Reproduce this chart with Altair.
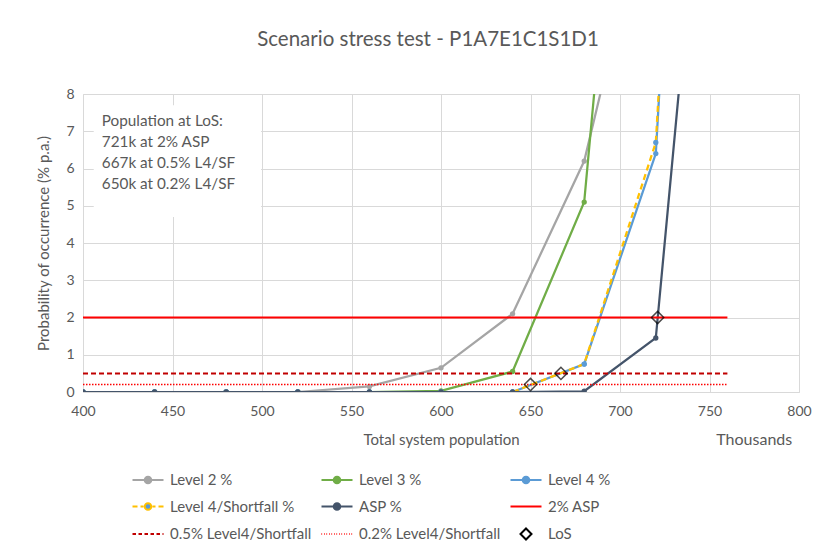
import altair as alt
import pandas as pd

# ---------------- data ----------------
x_pop = [400, 440, 480, 520, 560, 600, 640, 680, 720, 760]
level2 = [0, 0, 0, 0, 0.15, 0.65, 2.1, 6.2, 14.2, 22]
level3 = [0, 0, 0, 0, 0, 0.03, 0.55, 5.1, 26, 47]
level4 = [0, 0, 0, 0, 0, 0, 0, 0.75, 6.4, 40]
level4_sf = [0, 0, 0, 0, 0, 0, 0, 0.75, 6.7, 40]
asp = [0, 0, 0, 0, 0, 0, 0, 0.02, 1.45, 22]

ref_x = [400, 760]
ref_2_asp = 2.0
ref_05 = 0.5
ref_02 = 0.2

los_x = [650, 667, 721]
los_y = [0.2, 0.5, 2.0]

note_lines = ["Population at LoS:", "721k at 2% ASP", "667k at 0.5% L4/SF", "650k at 0.2% L4/SF"]
note_box_x = [406, 499.5]
note_box_y = [4.7, 7.7]

x_ticks = [400, 450, 500, 550, 600, 650, 700, 750, 800]
y_ticks = [0, 1, 2, 3, 4, 5, 6, 7, 8]

legend_names = ["Level 2 %", "Level 3 %", "Level 4 %",
                "Level 4/Shortfall %", "ASP %", "2% ASP",
                "0.5% Level4/Shortfall", "0.2% Level4/Shortfall", "LoS"]

FONT = "Lato"
TXT = "#595959"
GRID = "#D9D9D9"
C_L2 = "#A5A5A5"
C_L3 = "#70AD47"
C_L4 = "#5B9BD5"
C_SF = "#FFC000"
C_ASP = "#44546A"
C_RED = "#FF0000"
C_DRED = "#C00000"

# ---------------- tables ----------------
series_df = pd.DataFrame({
    "x": x_pop * 5,
    "y": level2 + level3 + level4 + level4_sf + asp,
    "s": (["Level 2 %"] * len(x_pop) + ["Level 3 %"] * len(x_pop) + ["Level 4 %"] * len(x_pop)
          + ["Level 4/Shortfall %"] * len(x_pop) + ["ASP %"] * len(x_pop)),
})
ref_df = pd.DataFrame({
    "x": ref_x * 3,
    "y": [ref_2_asp] * 2 + [ref_05] * 2 + [ref_02] * 2,
    "s": ["2% ASP"] * 2 + ["0.5% Level4/Shortfall"] * 2 + ["0.2% Level4/Shortfall"] * 2,
})
los_df = pd.DataFrame({"x": los_x, "y": los_y})
legend_df = pd.DataFrame({"s": legend_names})

xs = alt.Scale(domain=[400, 800], nice=False, zero=False)
ys = alt.Scale(domain=[0, 8], nice=False)

xax = alt.Axis(values=x_ticks, grid=True, gridColor=GRID, domain=False, labelFlush=False,
               ticks=False, labelColor=TXT, labelFont=FONT, labelFontSize=14, labelPadding=12,
               title="Total system population", titleColor=TXT, titleFont=FONT, titleFontSize=15,
               titleFontWeight="normal", titlePadding=14)
yax = alt.Axis(values=y_ticks, tickCount=9, grid=True, gridColor=GRID, domain=False,
               labelFlush=False, labelOverlap=False,
               ticks=False, labelColor=TXT, labelFont=FONT, labelFontSize=14, labelPadding=9,
               title="Probability of occurrence (% p.a.)", titleColor=TXT, titleFont=FONT,
               titleFontSize=15, titleFontWeight="normal", titlePadding=14)

X = alt.X("x:Q", scale=xs, axis=xax)
Y = alt.Y("y:Q", scale=ys, axis=yax)

base = alt.Chart(series_df)

box = alt.Chart(pd.DataFrame({"x": [note_box_x[0]], "x2": [note_box_x[1]],
                              "y": [note_box_y[0]], "y2": [note_box_y[1]]})).mark_rect(
    fill="white", strokeWidth=0).encode(
    x=X, x2="x2:Q", y=Y, y2="y2:Q")

note = alt.Chart(pd.DataFrame({"t": [note_lines]})).mark_text(
    align="left", baseline="top", font=FONT, fontSize=15.3, color=TXT, lineHeight=21).encode(
    x=alt.datum(410.5, scale=xs, axis=xax), y=alt.datum(7.45, scale=ys, axis=yax), text="t:N")


def series_line(name, color, dash=None, pcolor=None):
    lkw = dict(color=color, strokeWidth=2.25, clip=True)
    if dash:
        lkw["strokeDash"] = dash
    ln = base.transform_filter(alt.datum.s == name).mark_line(**lkw).encode(x=X, y=Y)
    pt = base.transform_filter(alt.datum.s == name).mark_point(
        filled=True, size=28, color=pcolor or color, opacity=1, clip=True).encode(x=X, y=Y)
    return ln + pt


def ref_line(name, color, dash=None, width=2.0):
    kw = dict(color=color, strokeWidth=width)
    if dash:
        kw["strokeDash"] = dash
    return alt.Chart(ref_df).transform_filter(alt.datum.s == name).mark_line(**kw).encode(x=X, y=Y)


l2 = series_line("Level 2 %", C_L2)
l3 = series_line("Level 3 %", C_L3)
l4 = series_line("Level 4 %", C_L4)
lsf = series_line("Level 4/Shortfall %", C_SF, dash=[6, 4], pcolor=C_L4)
la = series_line("ASP %", C_ASP)
r2 = ref_line("2% ASP", C_RED, width=2.0)
r05 = ref_line("0.5% Level4/Shortfall", C_DRED, dash=[5, 3], width=2.0)
r02 = ref_line("0.2% Level4/Shortfall", C_RED, dash=[1.5, 1.5], width=1.5)

los = alt.Chart(los_df).mark_point(shape="diamond", size=150, filled=False, stroke="black",
                                    strokeWidth=1.5).encode(x=X, y=Y)

thousands = alt.Chart(los_df.head(1)).mark_text(
    font=FONT, fontSize=16, color=TXT, baseline="middle", align="center").encode(
    x=alt.datum(775, scale=xs, axis=xax), y=alt.value(346), text=alt.value("Thousands"))

# legend symbols (custom paths in unit box, extended horizontally)
dot = "M-0.33,0A0.33,0.33 0 1,0 0.33,0A0.33,0.33 0 1,0 -0.33,0Z"
solid_dot = "M-1.55,0L1.55,0" + dot
dash_dot = "M-1.55,0L-1.05,0M-0.75,0L-0.45,0M0.45,0L0.75,0M1.05,0L1.55,0" + dot
solid = "M-1.55,0L1.55,0"
dashed = "M-1.55,0L-1.2,0M-0.95,0L-0.6,0M-0.35,0L0,0M0.25,0L0.6,0M0.85,0L1.2,0M1.45,0L1.55,0"
dotted = "".join(f"M{-1.55 + i * 0.25:.2f},0L{-1.49 + i * 0.25:.2f},0" for i in range(13))
diamond = "M0,-0.55L0.55,0L0,0.55L-0.55,0Z"

shapes = [solid_dot, solid_dot, solid_dot, dash_dot, solid_dot, solid, dashed, dotted, diamond]
strokes = [C_L2, C_L3, C_L4, C_SF, C_ASP, C_RED, C_DRED, C_RED, "black"]
fills = [C_L2, C_L3, C_L4, C_L4, C_ASP, C_RED, C_DRED, C_RED, "white"]

leg = alt.Legend(title=None, orient="none", legendX=54, legendY=374, direction="horizontal",
                 columns=3, gridAlign="all", columnPadding=5, rowPadding=6.5, symbolSize=400,
                 symbolStrokeWidth=2, symbolOpacity=1, labelOffset=11, labelFont=FONT,
                 labelFontSize=15, labelColor=TXT, labelLimit=300)

legend_layer = alt.Chart(legend_df).mark_point(filled=True, opacity=0).encode(
    shape=alt.Shape("s:N", scale=alt.Scale(domain=legend_names, range=shapes), legend=leg),
    stroke=alt.Stroke("s:N", scale=alt.Scale(domain=legend_names, range=strokes), legend=leg),
    fill=alt.Fill("s:N", scale=alt.Scale(domain=legend_names, range=fills), legend=leg),
)

chart = alt.layer(
    box, note, l2, l3, l4, lsf, la, r2, r05, r02, los, thousands, legend_layer
).properties(
    width=716, height=298,
    title=alt.Title("Scenario stress test - P1A7E1C1S1D1", font=FONT, fontSize=20.5,
                    fontWeight="normal", color=TXT, dx=-13, offset=37),
    autosize=alt.AutoSizeParams(type="none"),
    padding={"left": 75, "top": 86, "right": 20, "bottom": 160},
).configure_view(stroke=GRID).configure(background="white")

chart.save("out.html", embed_options={"renderer": "svg", "actions": False})
